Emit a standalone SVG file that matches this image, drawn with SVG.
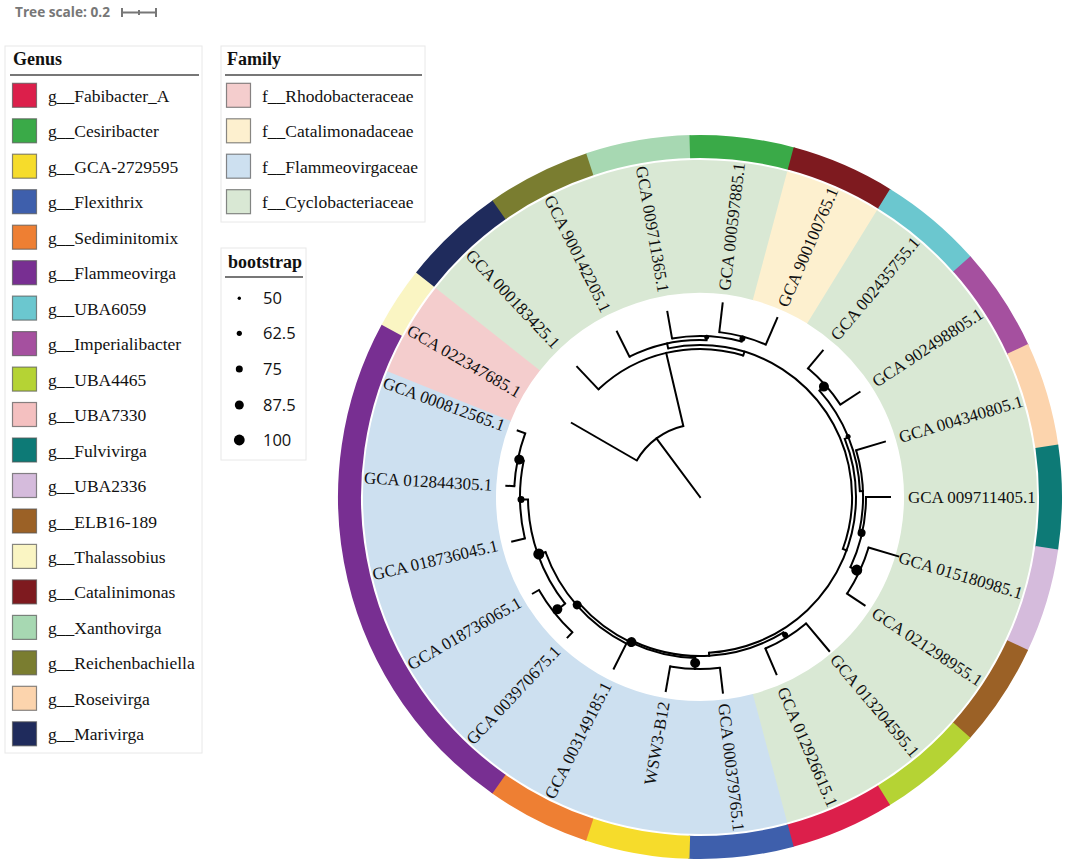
<svg xmlns="http://www.w3.org/2000/svg" width="1069" height="868" viewBox="0 0 1069 868">
<style>
.lbl{font-family:"Liberation Serif","Times New Roman",serif;font-size:17px;fill:#111}
.lg{font-family:"Liberation Serif","Times New Roman",serif;font-size:17.5px;fill:#111}
.hd{font-family:"Liberation Serif","Times New Roman",serif;font-size:18px;font-weight:bold;fill:#111}
.num{font-family:"Open Sans","Liberation Sans",sans-serif;font-size:16.5px;fill:#111}
.box{fill:#fff;stroke:#e8e8e8;stroke-width:1}
.ul{stroke:#777;stroke-width:2}
.sw{stroke:#555;stroke-opacity:.7;stroke-width:1.2}
.seg{fill:none;stroke-width:23}
.bg{fill:none;stroke-width:133}
.arc{fill:none;stroke:#000;stroke-width:2}
.br line{stroke:#000;stroke-width:2;stroke-linecap:square}
.dots circle{fill:#000}
</style>
<rect width="1069" height="868" fill="#fff"/>

<!-- tree scale -->
<g id="treescale">
<text x="15" y="17" font-family="'Open Sans','Liberation Sans',sans-serif" font-size="14" font-weight="bold" fill="#777" textLength="95" lengthAdjust="spacingAndGlyphs">Tree scale: 0.2</text>
<g stroke="#777" stroke-width="2"><line x1="122" y1="12.5" x2="156" y2="12.5"/><line x1="122" y1="8" x2="122" y2="17"/><line x1="156" y1="8" x2="156" y2="17"/><line x1="139" y1="10" x2="139" y2="15"/></g>
</g>

<!-- Genus legend -->
<g id="legend-genus">
<rect class="box" x="5" y="46" width="197" height="707"/>
<text class="hd" x="13" y="65">Genus</text>
<line class="ul" x1="10" y1="75" x2="199" y2="75"/>
<rect class="sw" x="12.5" y="83.3" width="24" height="24" fill="#dc1f4b"/><text class="lg" x="48" y="101.8">g__Fabibacter_A</text>
<rect class="sw" x="12.5" y="118.8" width="24" height="24" fill="#3aaa48"/><text class="lg" x="48" y="137.3">g__Cesiribacter</text>
<rect class="sw" x="12.5" y="154.2" width="24" height="24" fill="#f6dc2b"/><text class="lg" x="48" y="172.7">g__GCA-2729595</text>
<rect class="sw" x="12.5" y="189.7" width="24" height="24" fill="#3e5fac"/><text class="lg" x="48" y="208.2">g__Flexithrix</text>
<rect class="sw" x="12.5" y="225.2" width="24" height="24" fill="#ee7f33"/><text class="lg" x="48" y="243.7">g__Sediminitomix</text>
<rect class="sw" x="12.5" y="260.7" width="24" height="24" fill="#782f92"/><text class="lg" x="48" y="279.2">g__Flammeovirga</text>
<rect class="sw" x="12.5" y="296.1" width="24" height="24" fill="#6bc7cf"/><text class="lg" x="48" y="314.6">g__UBA6059</text>
<rect class="sw" x="12.5" y="331.6" width="24" height="24" fill="#a5509f"/><text class="lg" x="48" y="350.1">g__Imperialibacter</text>
<rect class="sw" x="12.5" y="367.1" width="24" height="24" fill="#b5d334"/><text class="lg" x="48" y="385.6">g__UBA4465</text>
<rect class="sw" x="12.5" y="402.5" width="24" height="24" fill="#f4c0c0"/><text class="lg" x="48" y="421">g__UBA7330</text>
<rect class="sw" x="12.5" y="438" width="24" height="24" fill="#0d7a76"/><text class="lg" x="48" y="456.5">g__Fulvivirga</text>
<rect class="sw" x="12.5" y="473.5" width="24" height="24" fill="#d5bbdc"/><text class="lg" x="48" y="492">g__UBA2336</text>
<rect class="sw" x="12.5" y="509" width="24" height="24" fill="#9b6126"/><text class="lg" x="48" y="527.5">g__ELB16-189</text>
<rect class="sw" x="12.5" y="544.4" width="24" height="24" fill="#faf5c3"/><text class="lg" x="48" y="562.9">g__Thalassobius</text>
<rect class="sw" x="12.5" y="579.9" width="24" height="24" fill="#7e1a1f"/><text class="lg" x="48" y="598.4">g__Catalinimonas</text>
<rect class="sw" x="12.5" y="615.4" width="24" height="24" fill="#a7d8b2"/><text class="lg" x="48" y="633.9">g__Xanthovirga</text>
<rect class="sw" x="12.5" y="650.8" width="24" height="24" fill="#7a7d30"/><text class="lg" x="48" y="669.3">g__Reichenbachiella</text>
<rect class="sw" x="12.5" y="686.3" width="24" height="24" fill="#fcd4ad"/><text class="lg" x="48" y="704.8">g__Roseivirga</text>
<rect class="sw" x="12.5" y="721.8" width="24" height="24" fill="#1f2b5c"/><text class="lg" x="48" y="740.3">g__Marivirga</text>
</g>

<!-- Family legend -->
<g id="legend-family">
<rect class="box" x="221" y="46" width="204" height="176"/>
<text class="hd" x="227" y="65">Family</text>
<line class="ul" x1="225" y1="75" x2="422" y2="75"/>
<rect class="sw" x="226.5" y="83.3" width="24" height="24" fill="#f4cdcd"/><text class="lg" x="262" y="101.8">f__Rhodobacteraceae</text>
<rect class="sw" x="226.5" y="118.8" width="24" height="24" fill="#fdf0cf"/><text class="lg" x="262" y="137.3">f__Catalimonadaceae</text>
<rect class="sw" x="226.5" y="154.2" width="24" height="24" fill="#cde0f0"/><text class="lg" x="262" y="172.7">f__Flammeovirgaceae</text>
<rect class="sw" x="226.5" y="189.7" width="24" height="24" fill="#d9e8d4"/><text class="lg" x="262" y="208.2">f__Cyclobacteriaceae</text>
</g>

<!-- bootstrap legend -->
<g id="legend-bootstrap">
<rect class="box" x="221" y="248" width="85" height="212"/>
<text class="hd" x="228" y="268">bootstrap</text>
<line class="ul" x1="225" y1="277" x2="303" y2="277"/>
<g fill="#000"><circle cx="239.3" cy="298.3" r="1.7"/><circle cx="239.3" cy="333.3" r="2.6"/><circle cx="239.3" cy="369" r="3.5"/><circle cx="239.3" cy="405" r="4.5"/><circle cx="239.3" cy="440" r="5.4"/></g>
<text class="num" x="263" y="304">50</text>
<text class="num" x="263" y="339">62.5</text>
<text class="num" x="263" y="374.7">75</text>
<text class="num" x="263" y="410.7">87.5</text>
<text class="num" x="263" y="445.7">100</text>
</g>

<g id="circle" transform="translate(700,497)">
<!-- family backgrounds -->
<g id="families">
<circle class="bg" r="270.5" pathLength="360" stroke="#f4cdcd" stroke-dasharray="16.9 400" transform="rotate(201.67)"/>
<circle class="bg" r="270.5" pathLength="360" stroke="#d9e8d4" stroke-dasharray="66.9 400" transform="rotate(218.33)"/>
<circle class="bg" r="270.5" pathLength="360" stroke="#fdf0cf" stroke-dasharray="16.9 400" transform="rotate(-75)"/>
<circle class="bg" r="270.5" pathLength="360" stroke="#d9e8d4" stroke-dasharray="133.6 400" transform="rotate(-58.33)"/>
<circle class="bg" r="270.5" pathLength="360" stroke="#cde0f0" stroke-dasharray="126.9 400" transform="rotate(75)"/>
</g>
<!-- genus ring -->
<g id="genus-ring">
<circle class="seg" r="350.5" pathLength="360" stroke="#faf5c3" stroke-dasharray="10.2 400" transform="rotate(208.33)"/>
<circle class="seg" r="350.5" pathLength="360" stroke="#1f2b5c" stroke-dasharray="16.9 400" transform="rotate(218.33)"/>
<circle class="seg" r="350.5" pathLength="360" stroke="#7a7d30" stroke-dasharray="16.9 400" transform="rotate(235)"/>
<circle class="seg" r="350.5" pathLength="360" stroke="#a7d8b2" stroke-dasharray="16.9 400" transform="rotate(251.67)"/>
<circle class="seg" r="350.5" pathLength="360" stroke="#3aaa48" stroke-dasharray="16.9 400" transform="rotate(268.33)"/>
<circle class="seg" r="350.5" pathLength="360" stroke="#7e1a1f" stroke-dasharray="16.9 400" transform="rotate(-75)"/>
<circle class="seg" r="350.5" pathLength="360" stroke="#6bc7cf" stroke-dasharray="16.9 400" transform="rotate(-58.33)"/>
<circle class="seg" r="350.5" pathLength="360" stroke="#a5509f" stroke-dasharray="16.9 400" transform="rotate(-41.67)"/>
<circle class="seg" r="350.5" pathLength="360" stroke="#fcd4ad" stroke-dasharray="16.9 400" transform="rotate(-25)"/>
<circle class="seg" r="350.5" pathLength="360" stroke="#0d7a76" stroke-dasharray="16.9 400" transform="rotate(-8.33)"/>
<circle class="seg" r="350.5" pathLength="360" stroke="#d5bbdc" stroke-dasharray="16.9 400" transform="rotate(8.33)"/>
<circle class="seg" r="350.5" pathLength="360" stroke="#9b6126" stroke-dasharray="16.9 400" transform="rotate(25)"/>
<circle class="seg" r="350.5" pathLength="360" stroke="#b5d334" stroke-dasharray="16.9 400" transform="rotate(41.67)"/>
<circle class="seg" r="350.5" pathLength="360" stroke="#dc1f4b" stroke-dasharray="16.9 400" transform="rotate(58.33)"/>
<circle class="seg" r="350.5" pathLength="360" stroke="#3e5fac" stroke-dasharray="16.9 400" transform="rotate(75)"/>
<circle class="seg" r="350.5" pathLength="360" stroke="#f6dc2b" stroke-dasharray="16.9 400" transform="rotate(91.67)"/>
<circle class="seg" r="350.5" pathLength="360" stroke="#ee7f33" stroke-dasharray="16.9 400" transform="rotate(108.33)"/>
<circle class="seg" r="350.5" pathLength="360" stroke="#782f92" stroke-dasharray="83.4 400" transform="rotate(125)"/>
</g>

<!-- tree connectors -->
<g id="connectors">
<g class="arcs">
<circle class="arc" r="73" pathLength="360" stroke-dasharray="46.8 400" transform="rotate(210)"/>
<circle class="arc" r="148" pathLength="360" stroke-dasharray="60.33 400" transform="rotate(226.67)"/>
<circle class="arc" r="152" pathLength="360" stroke-dasharray="122.1 400" transform="rotate(257.9)"/>
<circle class="arc" r="157" pathLength="360" stroke-dasharray="29.07 400" transform="rotate(243.33)"/>
<circle class="arc" r="161" pathLength="360" stroke-dasharray="25 400" transform="rotate(260)"/>
<circle class="arc" r="166" pathLength="360" stroke-dasharray="16.66 400" transform="rotate(-83.33)"/>
<circle class="arc" r="156" pathLength="360" stroke-dasharray="108.6 400" transform="rotate(-21.9)"/>
<circle class="arc" r="160" pathLength="360" stroke-dasharray="39.6 400" transform="rotate(-41.7)"/>
<circle class="arc" r="168" pathLength="360" stroke-dasharray="16.67 400" transform="rotate(-50)"/>
<circle class="arc" r="163" pathLength="360" stroke-dasharray="29.17 400" transform="rotate(-16.67)"/>
<circle class="arc" r="166" pathLength="360" stroke-dasharray="25 400" transform="rotate(0)"/>
<circle class="arc" r="176" pathLength="360" stroke-dasharray="16.66 400" transform="rotate(16.67)"/>
<circle class="arc" r="159" pathLength="360" stroke-dasharray="56.8 400" transform="rotate(58.3)"/>
<circle class="arc" r="165" pathLength="360" stroke-dasharray="16.67 400" transform="rotate(50)"/>
<circle class="arc" r="161" pathLength="360" stroke-dasharray="46.83 400" transform="rotate(91.67)"/>
<circle class="arc" r="172" pathLength="360" stroke-dasharray="16.67 400" transform="rotate(83.33)"/>
<circle class="arc" r="164" pathLength="360" stroke-dasharray="43.73 400" transform="rotate(116.67)"/>
<circle class="arc" r="172" pathLength="360" stroke-dasharray="37.5 400" transform="rotate(141.67)"/>
<circle class="arc" r="186" pathLength="360" stroke-dasharray="16.67 400" transform="rotate(133.33)"/>
<circle class="arc" r="180" pathLength="360" stroke-dasharray="25 400" transform="rotate(166.67)"/>
<circle class="arc" r="186" pathLength="360" stroke-dasharray="16.67 400" transform="rotate(183.33)"/>
</g>
<g class="br">
<line y1="0" y2="-73" transform="rotate(323.4)"/>
<line y1="-73" y2="-148" transform="rotate(300)"/>
<line y1="-73" y2="-148" transform="rotate(346.8)"/>
<line y1="-148" y2="-179" transform="rotate(316.67)"/>
<line y1="-148" y2="-152" transform="rotate(17)"/>
<line y1="-152" y2="-157" transform="rotate(347.9)"/>
<line y1="-157" y2="-185" transform="rotate(333.33)"/>
<line y1="-157" y2="-161" transform="rotate(2.4)"/>
<line y1="-161" y2="-188" transform="rotate(350)"/>
<line y1="-161" y2="-166" transform="rotate(15)"/>
<line y1="-166" y2="-195" transform="rotate(6.67)"/>
<line y1="-166" y2="-195" transform="rotate(23.33)"/>
<line y1="-152" y2="-156" transform="rotate(110)"/>
<line y1="-156" y2="-160" transform="rotate(68.1)"/>
<line y1="-160" y2="-168" transform="rotate(48.3)"/>
<line y1="-168" y2="-191" transform="rotate(40)"/>
<line y1="-168" y2="-191" transform="rotate(56.67)"/>
<line y1="-160" y2="-163" transform="rotate(87.9)"/>
<line y1="-163" y2="-193" transform="rotate(73.33)"/>
<line y1="-163" y2="-166" transform="rotate(102.5)"/>
<line y1="-166" y2="-190" transform="rotate(90)"/>
<line y1="-166" y2="-176" transform="rotate(115)"/>
<line y1="-176" y2="-207" transform="rotate(106.67)"/>
<line y1="-176" y2="-197" transform="rotate(123.33)"/>
<line y1="-156" y2="-159" transform="rotate(176.7)"/>
<line y1="-159" y2="-165" transform="rotate(148.3)"/>
<line y1="-165" y2="-201" transform="rotate(140)"/>
<line y1="-165" y2="-193" transform="rotate(156.67)"/>
<line y1="-159" y2="-161" transform="rotate(205.1)"/>
<line y1="-161" y2="-172" transform="rotate(181.67)"/>
<line y1="-172" y2="-197" transform="rotate(173.33)"/>
<line y1="-172" y2="-197" transform="rotate(190)"/>
<line y1="-161" y2="-164" transform="rotate(228.5)"/>
<line y1="-164" y2="-192" transform="rotate(206.67)"/>
<line y1="-164" y2="-172" transform="rotate(250.4)"/>
<line y1="-172" y2="-186" transform="rotate(231.67)"/>
<line y1="-186" y2="-193" transform="rotate(223.33)"/>
<line y1="-186" y2="-193" transform="rotate(240)"/>
<line y1="-172" y2="-180" transform="rotate(269.17)"/>
<line y1="-180" y2="-193" transform="rotate(256.67)"/>
<line y1="-180" y2="-186" transform="rotate(281.67)"/>
<line y1="-186" y2="-194" transform="rotate(273.33)"/>
<line y1="-186" y2="-194" transform="rotate(290)"/>
</g>
<g class="dots">
<circle cy="-160" r="2.5" transform="rotate(2.4)"/>
<circle cy="-164" r="3" transform="rotate(15)"/>
<circle cy="-166" r="5" transform="rotate(48.3)"/>
<circle cy="-160" r="2.5" transform="rotate(67.8)"/>
<circle cy="-165.5" r="4" transform="rotate(102.5)"/>
<circle cy="-173" r="5.5" transform="rotate(115)"/>
<circle cy="-162" r="3" transform="rotate(148.3)"/>
<circle cy="-166" r="5" transform="rotate(181.67)"/>
<circle cy="-160.5" r="5" transform="rotate(205.3)"/>
<circle cy="-163.5" r="4.5" transform="rotate(228.7)"/>
<circle cy="-171" r="5.5" transform="rotate(250.5)"/>
<circle cy="-181.5" r="5" transform="rotate(231.8)"/>
<circle cy="-179" r="3.5" transform="rotate(269.2)"/>
<circle cy="-184.6" r="5" transform="rotate(281.7)"/>
</g>
</g>

<!-- leaf labels -->
<g id="labels" class="lbl">
<g id="leaf-GCA_022347685"><text x="-208" dy="0.35em" text-anchor="end" transform="rotate(30)">GCA 022347685.1</text></g>
<g id="leaf-GCA_000183425"><text x="-208" dy="0.35em" text-anchor="end" transform="rotate(46.67)">GCA 000183425.1</text></g>
<g id="leaf-GCA_900142205"><text x="-208" dy="0.35em" text-anchor="end" transform="rotate(63.33)">GCA 900142205.1</text></g>
<g id="leaf-GCA_009711365"><text x="-208" dy="0.35em" text-anchor="end" transform="rotate(80)">GCA 009711365.1</text></g>
<g id="leaf-GCA_000597885"><text x="208" dy="0.35em" transform="rotate(-83.33)">GCA 000597885.1</text></g>
<g id="leaf-GCA_900100765"><text x="208" dy="0.35em" transform="rotate(-66.67)">GCA 900100765.1</text></g>
<g id="leaf-GCA_002435755"><text x="208" dy="0.35em" transform="rotate(-50)">GCA 002435755.1</text></g>
<g id="leaf-GCA_902498805"><text x="208" dy="0.35em" transform="rotate(-33.33)">GCA 902498805.1</text></g>
<g id="leaf-GCA_004340805"><text x="208" dy="0.35em" transform="rotate(-16.67)">GCA 004340805.1</text></g>
<g id="leaf-GCA_009711405"><text x="208" dy="0.35em" transform="rotate(0)">GCA 009711405.1</text></g>
<g id="leaf-GCA_015180985"><text x="208" dy="0.35em" transform="rotate(16.67)">GCA 015180985.1</text></g>
<g id="leaf-GCA_021298955"><text x="208" dy="0.35em" transform="rotate(33.33)">GCA 021298955.1</text></g>
<g id="leaf-GCA_013204595"><text x="208" dy="0.35em" transform="rotate(50)">GCA 013204595.1</text></g>
<g id="leaf-GCA_012926615"><text x="208" dy="0.35em" transform="rotate(66.67)">GCA 012926615.1</text></g>
<g id="leaf-GCA_000379765"><text x="208" dy="0.35em" transform="rotate(83.33)">GCA 000379765.1</text></g>
<g id="leaf-WSW3-B12"><text x="-208" dy="0.35em" text-anchor="end" transform="rotate(280)">WSW3-B12</text></g>
<g id="leaf-GCA_003149185"><text x="-208" dy="0.35em" text-anchor="end" transform="rotate(296.67)">GCA 003149185.1</text></g>
<g id="leaf-GCA_003970675"><text x="-208" dy="0.35em" text-anchor="end" transform="rotate(313.33)">GCA 003970675.1</text></g>
<g id="leaf-GCA_018736065"><text x="-208" dy="0.35em" text-anchor="end" transform="rotate(330)">GCA 018736065.1</text></g>
<g id="leaf-GCA_018736045"><text x="-208" dy="0.35em" text-anchor="end" transform="rotate(346.67)">GCA 018736045.1</text></g>
<g id="leaf-GCA_012844305"><text x="-208" dy="0.35em" text-anchor="end" transform="rotate(3.33)">GCA 012844305.1</text></g>
<g id="leaf-GCA_000812565"><text x="-208" dy="0.35em" text-anchor="end" transform="rotate(20)">GCA 000812565.1</text></g>
</g>
</g>
</svg>
